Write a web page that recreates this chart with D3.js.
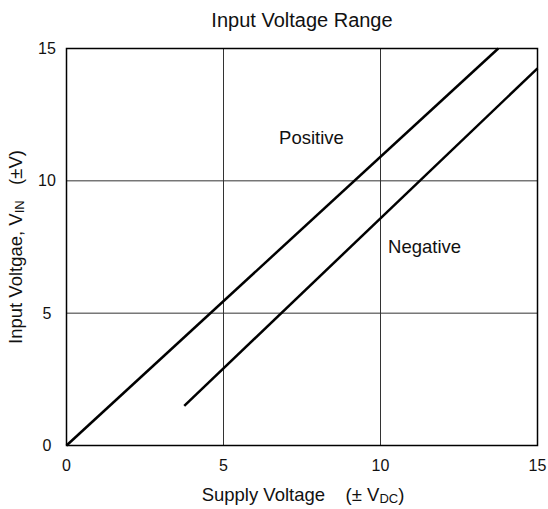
<!DOCTYPE html>
<html>
<head>
<meta charset="utf-8">
<script src="https://cdn.jsdelivr.net/npm/d3@7"></script>
<style>
  body { margin: 0; background: #fff; }
  svg text { font-family: "Liberation Sans", Arial, sans-serif; fill: #111; white-space: pre; }
</style>
</head>
<body>
<svg width="548" height="509"></svg>
<script>
const width = 548;
const height = 509;
const margin = { top: 48.5, right: 10.5, bottom: 63.5, left: 66.5 };

// data
const xTicks = [0, 5, 10, 15];
const yTicks = [0, 5, 10, 15];
const positiveLine = [[0, 0], [13.75, 15]];
const negativeLine = [[3.75, 1.5], [15, 14.25]];
const labels = [
  { text: "Positive", x: 6.77, y: 11.38 },
  { text: "Negative", x: 10.24, y: 7.29 }
];

const svg = d3.select("svg");

const x = d3.scaleLinear().domain([0, 15]).range([margin.left, width - margin.right]);
const y = d3.scaleLinear().domain([0, 15]).range([height - margin.bottom, margin.top]);

// grid
svg.append("g").selectAll("line")
  .data(xTicks.slice(1, -1))
  .enter().append("line")
    .attr("x1", d => x(d)).attr("x2", d => x(d))
    .attr("y1", y(15)).attr("y2", y(0))
    .attr("stroke", "#333").attr("stroke-width", 1);

svg.append("g").selectAll("line")
  .data(yTicks.slice(1, -1))
  .enter().append("line")
    .attr("x1", x(0)).attr("x2", x(15))
    .attr("y1", d => y(d)).attr("y2", d => y(d))
    .attr("stroke", "#333").attr("stroke-width", 1);

// frame
svg.append("rect")
  .attr("x", x(0)).attr("y", y(15))
  .attr("width", x(15) - x(0)).attr("height", y(0) - y(15))
  .attr("fill", "none").attr("stroke", "#000").attr("stroke-width", 1.5);

// tick labels (no tick marks)
svg.append("g").selectAll("text")
  .data(xTicks)
  .enter().append("text")
    .attr("x", d => x(d)).attr("y", 471)
    .attr("text-anchor", "middle").attr("font-size", 16)
    .text(d => d);

svg.append("g").selectAll("text")
  .data(yTicks)
  .enter().append("text")
    .attr("x", 47).attr("y", d => y(d)).attr("dy", "0.35em")
    .attr("text-anchor", "middle").attr("font-size", 16)
    .text(d => d);

// data lines
const line = d3.line().x(d => x(d[0])).y(d => y(d[1]));
[positiveLine, negativeLine].forEach(pts => {
  svg.append("path")
    .datum(pts)
    .attr("d", line)
    .attr("fill", "none")
    .attr("stroke", "#000")
    .attr("stroke-width", 2.5);
});

// curve labels
svg.selectAll("text.curve")
  .data(labels)
  .enter().append("text")
    .attr("class", "curve")
    .attr("x", d => x(d.x))
    .attr("y", d => y(d.y))
    .attr("font-size", 18.5)
    .text(d => d.text);

// title
svg.append("text")
  .attr("x", 302).attr("y", 27)
  .attr("text-anchor", "middle").attr("font-size", 20)
  .text("Input Voltage Range");

// x label
const xl = svg.append("text")
  .attr("x", 303).attr("y", 500.5)
  .attr("text-anchor", "middle").attr("font-size", 18.5);
xl.append("tspan").text("Supply Voltage    (± V");
xl.append("tspan").attr("font-size", 13).attr("dy", 2).text("DC");
xl.append("tspan").attr("dy", -2).text(")");

// y label
const yl = svg.append("text")
  .attr("transform", `translate(22,${(y(0) + y(15)) / 2}) rotate(-90)`)
  .attr("text-anchor", "middle").attr("font-size", 18.5);
yl.append("tspan").text("Input Voltgae, V");
yl.append("tspan").attr("font-size", 13).attr("dy", 2).text("IN");
yl.append("tspan").attr("dy", -2).text("   (±V)");
</script>
</body>
</html>
